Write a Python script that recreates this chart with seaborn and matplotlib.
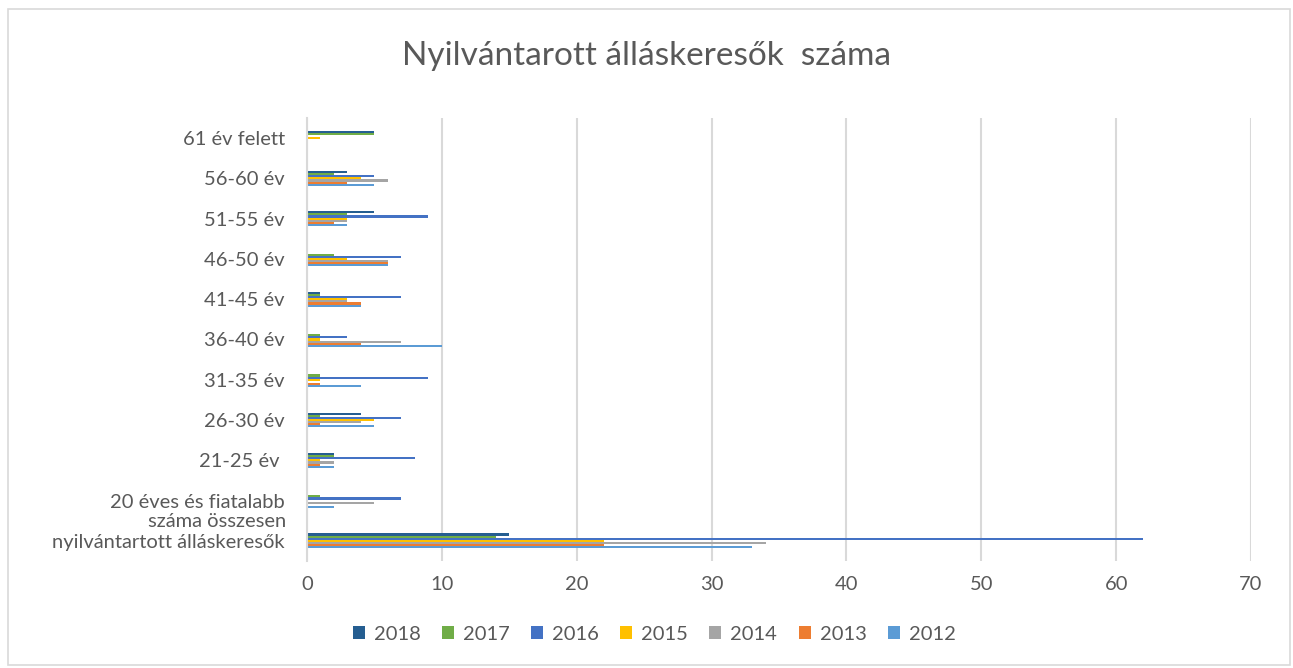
import matplotlib
matplotlib.use("Agg")
import matplotlib.pyplot as plt
from matplotlib.patches import Rectangle
import numpy as np
import pandas as pd
import seaborn as sns

# categories, top to bottom as drawn
categories = ["61 év felett", "56-60 év", "51-55 év", "46-50 év", "41-45 év",
              "36-40 év", "31-35 év", "26-30 év", "21-25 év ",
              "20 éves és fiatalabb", "nyilvántartott álláskeresők"]
years = ["2018", "2017", "2016", "2015", "2014", "2013", "2012"]

v2018 = [5, 3, 5, 0, 1, 0, 0, 4, 2, 0, 15]
v2017 = [5, 2, 3, 2, 1, 1, 1, 1, 2, 1, 14]
v2016 = [0, 5, 9, 7, 7, 3, 9, 7, 8, 7, 62]
v2015 = [1, 4, 3, 3, 3, 1, 1, 5, 1, 0, 22]
v2014 = [0, 6, 3, 6, 3, 7, 0, 4, 2, 5, 34]
v2013 = [0, 3, 2, 6, 4, 4, 1, 1, 1, 0, 22]
v2012 = [0, 5, 3, 6, 4, 10, 4, 5, 2, 2, 33]

colors = ["#255E91", "#70AD47", "#4472C4", "#FFC000", "#A5A5A5", "#ED7D31", "#5B9BD5"]
text_col = "#595959"
grid_col = "#D9D9D9"

series = [v2018, v2017, v2016, v2015, v2014, v2013, v2012]
rows = []
for yr, vals in zip(years, series):
    for cat, v in zip(categories, vals):
        rows.append({"cat": cat, "year": yr, "value": v})
df = pd.DataFrame(rows)

sns.set_style("white")
plt.rcParams["font.family"] = ["Lato", "DejaVu Sans"]

fig = plt.figure(figsize=(12.93, 6.68), dpi=100)
ax = fig.add_axes([307 / 1293, 1 - 561 / 668, (1251 - 307) / 1293, (561 - 118) / 668])

sns.barplot(data=df, y="cat", x="value", hue="year", order=categories,
            hue_order=years, palette=colors, saturation=1, orient="h", width=0.37,
            dodge=True, ax=ax, errorbar=None, linewidth=0, legend=True)

ax.set_xlim(0, 70)
ax.set_ylim(len(categories) - 0.5, -0.5)
ax.set_xticks(range(0, 71, 10))
ax.xaxis.grid(True, color=grid_col, linewidth=1.5)
ax.yaxis.grid(False)
ax.set_axisbelow(True)
for s in ["top", "right", "bottom"]:
    ax.spines[s].set_visible(False)
ax.spines["left"].set_color(grid_col)
ax.spines["left"].set_linewidth(1.5)
ax.set_xlabel("")
ax.set_ylabel("")
ax.tick_params(axis="both", length=0, labelsize=14.5, labelcolor=text_col)
ax.tick_params(axis="y", pad=16)
ax.tick_params(axis="x", pad=11)

# extra line of the wrapped bottom label
ax.text(-0.0225, len(categories) - 1 - 0.49, "száma összesen",
        transform=ax.get_yaxis_transform(), ha="right", va="center",
        fontsize=14.5, color=text_col)

handles, labels = ax.get_legend_handles_labels()
ax.get_legend().remove()
leg = fig.legend(handles, labels, loc="center", bbox_to_anchor=(0.506, 1 - 634 / 668),
                 ncol=7, frameon=False, fontsize=14.5, handlelength=0.6,
                 handleheight=0.6, columnspacing=1.05, handletextpad=0.45)
for t in leg.get_texts():
    t.set_color(text_col)

fig.text(0.5, 1 - 56 / 668, "Nyilvántarott álláskeresők  száma", ha="center", va="center",
         fontsize=24, color=text_col)

fig.patches.append(Rectangle((8 / 1293, 3 / 668), 1282 / 1293, 656 / 668,
                             transform=fig.transFigure, fill=False,
                             edgecolor=grid_col, linewidth=1.2))

fig.savefig("out.png", dpi=100)
